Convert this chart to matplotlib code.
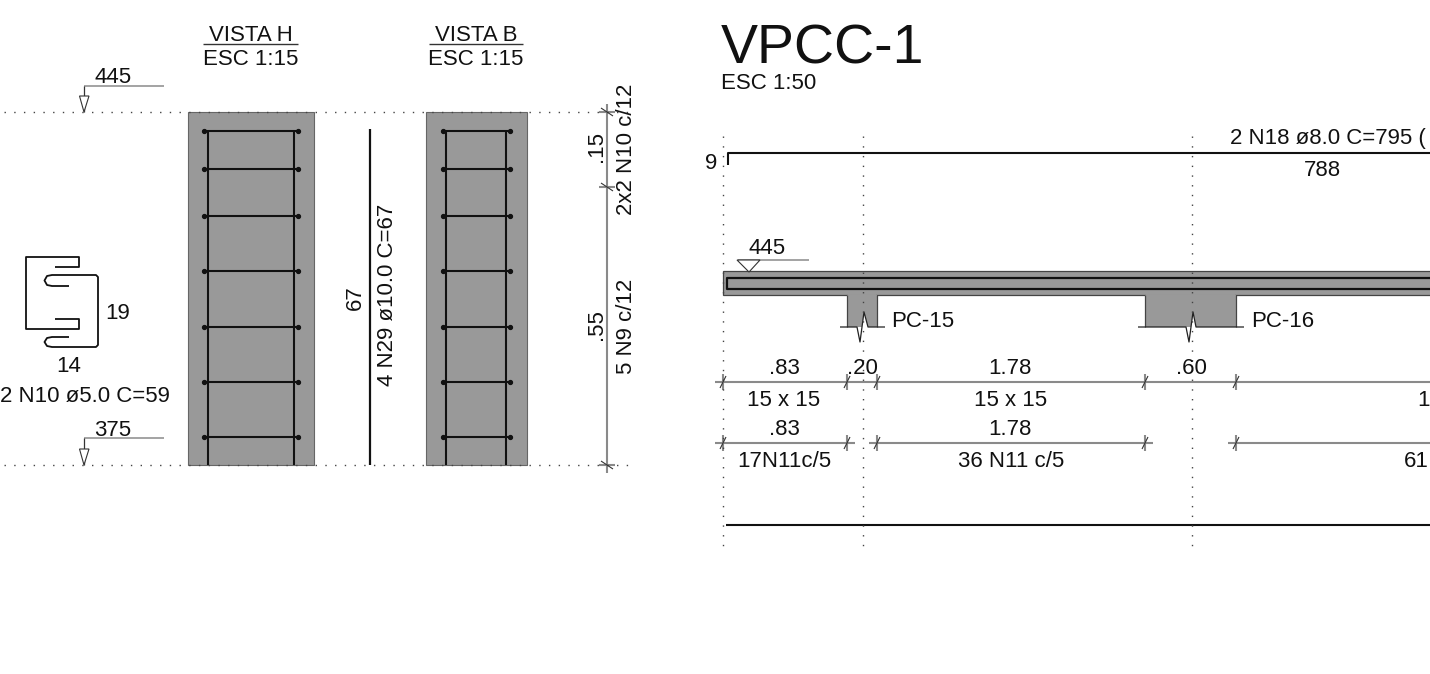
import matplotlib
matplotlib.use("Agg")
import matplotlib.pyplot as plt
from matplotlib.patches import Polygon, Rectangle

plt.rcParams['font.family'] = ['Liberation Sans', 'DejaVu Sans']

W, H = 1430, 674
BLACK = '#111111'
GRAY = '#8a8a8a'
FILL = '#999999'
FS = 16.0

# elevations of stirrups (drawing units = px)
stirrup_y = [131, 169, 215.5, 271, 326.5, 382, 437]
top_y, bot_y = 112, 465
panels = [  # x0, x1, bar xs, stirrup extents
    (188, 313.5, (208, 294), (205, 297), (204, 298)),
    (426, 526.5, (446, 506), (443, 509), (443, 510)),
]
titles = [("VISTA H", 250.5, 203, 298), ("VISTA B", 476, 429, 523)]
elev_marks = [("445", 86, 112, 83), ("375", 438, 465, 436)]
row1_ticks = [723, 847, 877, 1145, 1236]
row2_segments = [(715, 855), (869, 1153), (1228, 1430)]
row2_ticks = [723, 847, 877, 1145, 1236]
axis_x = [723, 863, 1192]
columns = [(847, 877, 840, 885, (857, 860, 864, 868), "PC-15", 891),
           (1145, 1236, 1138, 1244, (1186, 1189, 1193, 1196), "PC-16", 1251)]
labels_top = [(".83", 784), (".20", 862), ("1.78", 1010), (".60", 1191)]
labels_row1 = [("15 x 15", 784), ("15 x 15", 1011)]
labels_row2_top = [(".83", 784), ("1.78", 1010)]
labels_row2 = [("17N11c/5", 784), ("36 N11 c/5", 1011)]

fig = plt.figure(figsize=(W / 100, H / 100), dpi=100, facecolor='white')
ax = fig.add_axes([0, 0, 1, 1])
ax.set_xlim(0, W)
ax.set_ylim(H, 0)
ax.axis('off')


def line(xs, ys, c=BLACK, lw=1.4, z=3, **kw):
    ax.plot(xs, ys, color=c, lw=lw, zorder=z, solid_capstyle='butt',
            solid_joinstyle='round', **kw)


def dotted(xs, ys):
    ax.plot(xs, ys, color='#444444', lw=1.0, ls=(0, (1, 6)), zorder=5)


def txt(x, y, s, ha='center', fs=FS, rot=0):
    ax.text(x, y, s, ha=ha, va='baseline', fontsize=fs, rotation=rot,
            rotation_mode='anchor', color=BLACK, zorder=6)


def tick_h(x, y):
    line([x, x], [y - 8, y + 8], c=GRAY, lw=1.5, z=4)
    line([x - 3, x + 3], [y + 6, y - 6], c='#333333', lw=0.8, z=5)


def tick_v(x, y):
    line([x - 8, x + 8], [y, y], c=GRAY, lw=1.5, z=4)
    line([x - 6, x + 6], [y - 4, y + 4], c='#333333', lw=0.8, z=5)


# ---------- left: section views ----------
for s, cx, x0, x1 in titles:
    txt(cx, 41, s)
    txt(cx, 65, "ESC 1:15")
    line([x0, x1], [44, 44], c='#333333', lw=1.0)

for yy in (top_y, bot_y):
    dotted([4, 635], [yy, yy])

for x0, x1, bars, st, dots in panels:
    ax.add_patch(Rectangle((x0, top_y), x1 - x0, bot_y - top_y, fc=FILL,
                           ec='#666666', lw=0.8, zorder=1))
    for bx in bars:
        line([bx, bx], [131, bot_y], lw=1.5)
    for sy in stirrup_y:
        line(list(st), [sy, sy], lw=1.5)
        ax.plot(list(dots), [sy, sy], ls='none', marker='o', ms=2.8, color=BLACK, zorder=4)

line([370, 370], [129, 465], lw=1.6)
txt(361, 298, "67", rot=90)
txt(393, 295, "4 N29 ø10.0 C=67", rot=90)

for s, ly, ty, by in elev_marks:
    txt(113, by, s)
    line([84, 164], [ly, ly], c=GRAY, lw=1.1)
    line([84, 84], [ly, ty], c='#333333', lw=0.9)
    ax.add_patch(Polygon([(79.5, ty - 16), (89, ty - 16), (84, ty)], closed=True,
                         fc='white', ec='#333333', lw=0.8, zorder=4))

# stirrup detail
line([55, 79, 79, 26, 26, 79, 79, 55], [267, 267, 257, 257, 329, 329, 319, 319], lw=1.3)
line([69, 52, 47, 44.5, 47, 52, 96, 98, 98, 96, 52, 47, 44.5, 47, 52, 69],
     [286, 286, 285, 280.5, 276, 275, 275, 277, 345, 347, 347, 346, 342, 338, 337, 337], lw=1.3)
txt(105, 319, "19", ha='left')
txt(69, 372, "14")
txt(0, 402, "2 N10 ø5.0 C=59", ha='left')

# vertical dimension chain
line([607, 607], [104, 473], c=GRAY, lw=1.5)
for yy in (112, 187, 465):
    tick_v(607, yy)
txt(602, 146, ".15", rot=90)
txt(602, 325, ".55", rot=90)
txt(632, 149, "2x2 N10 c/12", rot=90)
txt(632, 326, "5 N9 c/12", rot=90)

# ---------- right: beam ----------
txt(721, 64, "VPCC-1", ha='left', fs=40)
txt(721, 89, "ESC 1:50", ha='left')

for ax_x in axis_x:
    dotted([ax_x, ax_x], [136, 554])

txt(705, 169, "9", ha='left')
line([728, 728, 1430], [165, 153, 153], lw=1.5)
txt(1230, 144, "2 N18 ø8.0 C=795 (", ha='left')
txt(1322, 176, "788")

txt(767, 254, "445")
line([738, 809], [260, 260], c=GRAY, lw=1.1)
ax.add_patch(Polygon([(737, 260), (760, 260), (749, 272)], closed=True,
                     fc='white', ec='#333333', lw=0.8, zorder=4))

ax.add_patch(Rectangle((723, 271), W - 723 + 5, 24, fc=FILL, ec='#444444', lw=0.9, zorder=1))
line([1430, 727, 727, 1430], [278, 278, 289, 289], lw=1.6)

for x0, x1, e0, e1, zz, name, tx in columns:
    ax.add_patch(Polygon([(x0, 295), (x1, 295), (x1, 327), (zz[3], 327), (zz[2], 312),
                          (zz[1], 342), (zz[0], 327), (x0, 327)],
                         closed=True, fc=FILL, ec='none', zorder=1.5))
    ax.add_patch(Polygon([(zz[1], 342), (zz[2], 312), (zz[3], 327), (zz[0], 327)],
                         closed=True, fc='white', ec='none', zorder=1.6))
    line([x0, x0], [295, 327], c='#444444', lw=0.9)
    line([x1, x1], [295, 327], c='#444444', lw=0.9)
    line([x0 + 1, x1 - 1], [295, 295], c=FILL, lw=1.4, z=1.7)
    line([e0, zz[0], zz[1], zz[2], zz[3], e1], [327, 327, 342, 312, 327, 327], c='#222222', lw=0.9)
    txt(tx, 327, name, ha='left')

line([715, 1430], [382, 382], c=GRAY, lw=1.5)
for tx in row1_ticks:
    tick_h(tx, 382)
for seg in row2_segments:
    line(list(seg), [443, 443], c=GRAY, lw=1.5)
for tx in row2_ticks:
    tick_h(tx, 443)

for s, cx in labels_top:
    txt(cx, 374, s)
for s, cx in labels_row1:
    txt(cx, 406, s)
for s, cx in labels_row2_top:
    txt(cx, 435, s)
for s, cx in labels_row2:
    txt(cx, 467, s)
txt(1429, 467, "61", ha='right')
txt(1430, 406, "1", ha='right')

line([726, 1430], [525, 525], lw=1.5)

fig.savefig('out.png', dpi=100, facecolor='white')
